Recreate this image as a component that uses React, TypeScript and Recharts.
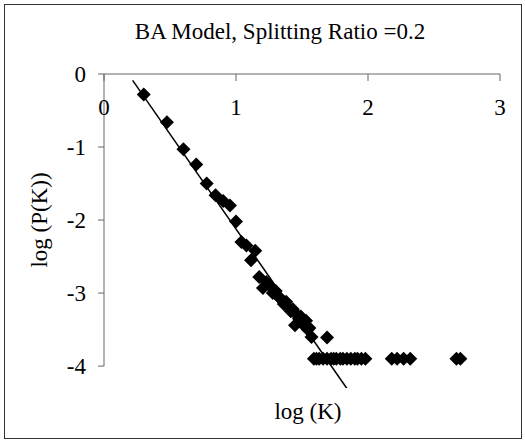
import { ScatterChart, Scatter, XAxis, YAxis, ReferenceLine } from 'recharts'

// log(K) and log(P(K))
const logK = [
  0.301, 0.477, 0.602, 0.699, 0.778, 0.845, 0.903, 0.954, 1.0, 1.041,
  1.079, 1.114, 1.146, 1.176, 1.204, 1.23, 1.255, 1.279, 1.301, 1.322,
  1.342, 1.362, 1.38, 1.398, 1.415, 1.431, 1.447, 1.462, 1.477, 1.491,
  1.505, 1.519, 1.531, 1.544, 1.556, 1.572, 1.69,
]
const logP = [
  -0.28, -0.66, -1.03, -1.24, -1.5, -1.66, -1.74, -1.8, -2.02, -2.3,
  -2.35, -2.55, -2.42, -2.78, -2.93, -2.85, -2.9, -3.0, -2.97, -3.05,
  -3.08, -3.15, -3.12, -3.2, -3.25, -3.22, -3.44, -3.3, -3.35, -3.32,
  -3.4, -3.45, -3.38, -3.5, -3.48, -3.6, -3.61,
]

// points with a single node (flat row)
const tailK = [
  1.59, 1.61, 1.63, 1.66, 1.69, 1.72, 1.74, 1.76, 1.79, 1.81, 1.84,
  1.87, 1.9, 1.92, 1.95, 1.98, 2.18, 2.22, 2.27, 2.32, 2.67, 2.7,
]
const tailP = -3.9

// power-law trend line ends
const trendK = [0.217, 1.839]
const trendP = [-0.087, -4.304]

const xTicks = [0, 1, 2, 3]
const yTicks = [-4, -3, -2, -1, 0]

const points = [
  ...logK.map((k, i) => ({ x: k, y: logP[i] })),
  ...tailK.map((k) => ({ x: k, y: tailP })),
]
const trend = trendK.map((k, i) => ({ x: k, y: trendP[i] }))

const font = '"Liberation Serif", "Times New Roman", serif'
const axisColor = '#666'

const Diamond = (props: any) => {
  const { cx, cy } = props
  const r = 7
  return (
    <polygon
      points={`${cx},${cy - r} ${cx + r},${cy} ${cx},${cy + r} ${cx - r},${cy}`}
      fill="#000"
    />
  )
}

const TopTick = (props: any) => {
  const { x, y, payload } = props
  return (
    <g>
      <line x1={x} x2={x} y1={y} y2={y + 7} stroke={axisColor} />
      <text x={x} y={y + 41} textAnchor="middle" fontSize={23} fontFamily={font} fill="#000">
        {payload.value}
      </text>
    </g>
  )
}

export default function App() {
  return (
    <div
      style={{
        position: 'absolute',
        left: 0,
        top: 0,
        width: 525,
        height: 440,
        background: '#fff',
        fontFamily: font,
      }}
    >
      <div
        style={{
          position: 'absolute',
          left: 4,
          top: 4,
          width: 516,
          height: 433,
          border: '1px solid #333',
        }}
      />
      <div
        style={{
          position: 'absolute',
          left: 0,
          width: 560,
          top: 18,
          textAlign: 'center',
          fontSize: 23,
          lineHeight: '28px',
        }}
      >
        BA Model, Splitting Ratio =0.2
      </div>
      <div style={{ position: 'absolute', left: 0, top: 0 }}>
        <ScatterChart width={525} height={440} margin={{ top: 0, right: 25, bottom: 52, left: 0 }}>
          <XAxis
            type="number"
            dataKey="x"
            orientation="top"
            height={74}
            domain={[0, 3]}
            ticks={xTicks}
            tickSize={0}
            tickMargin={0}
            tickLine={false}
            tick={<TopTick />}
            axisLine={{ stroke: axisColor }}
          />
          <YAxis
            type="number"
            dataKey="y"
            width={104}
            domain={[-4.3, 0]}
            allowDataOverflow
            ticks={yTicks}
            tickSize={6}
            tickMargin={12}
            axisLine={false}
            tickLine={{ stroke: axisColor }}
            tick={{ fill: '#000', fontSize: 23, fontFamily: font }}
          />
          <ReferenceLine
            segment={[{ x: 0, y: -4 }, { x: 0, y: 0 }]}
            stroke={axisColor}
            strokeWidth={1}
          />
          <Scatter data={points} shape={<Diamond />} isAnimationActive={false} />
          <Scatter
            data={trend}
            line={{ stroke: '#000', strokeWidth: 1.5 }}
            shape={() => <g />}
            isAnimationActive={false}
          />
        </ScatterChart>
      </div>
      <div
        style={{
          position: 'absolute',
          left: 258,
          width: 100,
          top: 398,
          textAlign: 'center',
          fontSize: 23,
          lineHeight: '28px',
        }}
      >
        log (K)
      </div>
      <div
        style={{
          position: 'absolute',
          left: 40 - 70,
          top: 220 - 14,
          width: 140,
          textAlign: 'center',
          fontSize: 23,
          lineHeight: '28px',
          transform: 'rotate(-90deg)',
        }}
      >
        log (P(K))
      </div>
    </div>
  )
}
